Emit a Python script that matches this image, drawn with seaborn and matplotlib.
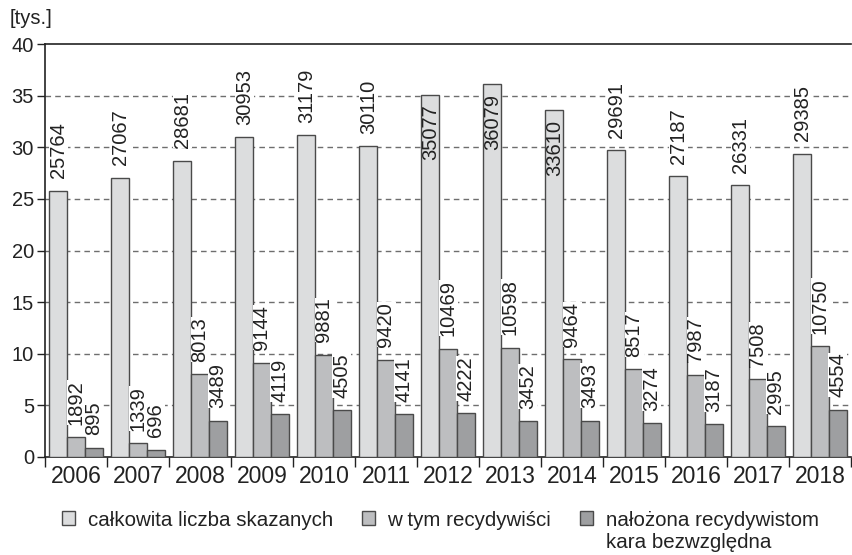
import numpy as np
import pandas as pd
import seaborn as sns
import matplotlib.pyplot as plt
from matplotlib.patches import Patch

years = ['2006', '2007', '2008', '2009', '2010', '2011', '2012',
         '2013', '2014', '2015', '2016', '2017', '2018']
skazani = [25764, 27067, 28681, 30953, 31179, 30110, 35077,
           36079, 33610, 29691, 27187, 26331, 29385]
recydywisci = [1892, 1339, 8013, 9144, 9881, 9420, 10469,
               10598, 9464, 8517, 7987, 7508, 10750]
bezwzgledna = [895, 696, 3489, 4119, 4505, 4141, 4222,
               3452, 3493, 3274, 3187, 2995, 4554]
series = ['całkowita liczba skazanych', 'w tym recydywiści',
          'nałożona recydywistom kara bezwzględna']
colors = ['#dcddde', '#bdbec0', '#9e9fa1']

df = pd.DataFrame({
    'rok': years * 3,
    'seria': np.repeat(series, len(years)),
    'wartosc': skazani + recydywisci + bezwzgledna,
})
df['tys'] = df['wartosc'] / 1000

sns.set_style('white')
plt.rcParams['font.family'] = ['Liberation Sans', 'DejaVu Sans']

fig = plt.figure(figsize=(8.52, 5.55), dpi=100)
ax = fig.add_axes([45 / 852, 1 - 457 / 555, 806 / 852, 413 / 555])

sns.barplot(data=df, x='rok', y='tys', hue='seria', hue_order=series,
            palette=colors, width=0.86, gap=0, edgecolor='#4a4a4a',
            linewidth=1, legend=False, ax=ax, zorder=3)

ax.set_xlim(-0.5, 12.5)
ax.set_ylim(0, 40)
ax.set_yticks(range(0, 41, 5))
ax.set_xlabel('')
ax.set_ylabel('')
ax.grid(False)
for y in range(5, 40, 5):
    ax.axhline(y, color='#6e6e6e', lw=1, ls=(0, (4, 3)), zorder=1)

ax.tick_params(axis='y', direction='out', length=6, width=1, color='#222',
               labelsize=14.5, pad=2, left=True, labelcolor='#222')
ax.tick_params(axis='x', which='major', length=0, labelsize=16.5, pad=6,
               labelcolor='#222')
ax.set_xticks(np.arange(-0.5, 13, 1), minor=True)
ax.tick_params(axis='x', which='minor', direction='out', length=7,
               width=1, color='#222', bottom=True)
for s in ['left', 'bottom', 'top']:
    ax.spines[s].set_color('#222')
    ax.spines[s].set_linewidth(1.2)
ax.spines['right'].set_visible(False)

inside = {'35077', '36079', '33610'}
for cont, vals in zip(ax.containers, [skazani, recydywisci, bezwzgledna]):
    for bar, v in zip(cont, vals):
        x = bar.get_x() + bar.get_width() / 2
        h = bar.get_height()
        if str(v) in inside:
            ax.annotate(str(v), (x, h), xytext=(0, -7), textcoords='offset points',
                        rotation=90, ha='center', va='top', fontsize=14.5,
                        color='#222', zorder=5)
        else:
            ax.annotate(str(v), (x, h), xytext=(0, 9), textcoords='offset points',
                        rotation=90, ha='center', va='bottom', fontsize=14.5,
                        color='#222', zorder=5,
                        bbox=dict(facecolor='white', edgecolor='none', pad=0))

fig.text(10 / 852, 1 - 18 / 555, '[tys.]', fontsize=14.5, va='center',
         ha='left', color='#222')

handles = [Patch(facecolor=c, edgecolor='#4a4a4a', lw=1) for c in colors]
labels = ['całkowita liczba skazanych', 'w tym recydywiści',
          'nałożona recydywistom']
leg = fig.legend(handles, labels, loc='center left', ncol=3, frameon=False,
                 fontsize=14.8, bbox_to_anchor=(62 / 852, 1 - 520 / 555),
                 handlelength=0.65, handleheight=0.65, handletextpad=0.6,
                 columnspacing=1.4, borderaxespad=0, borderpad=0)
for t in leg.get_texts():
    t.set_color('#222')

# second line of the third legend entry, aligned with its first line
fig.canvas.draw()
bb = leg.get_texts()[2].get_window_extent()
fig.text(bb.x0 / fig.bbox.width, 1 - 543 / 555, 'kara bezwzględna',
         fontsize=14.8, va='center', ha='left', color='#222')

fig.savefig('out.png', dpi=100)
